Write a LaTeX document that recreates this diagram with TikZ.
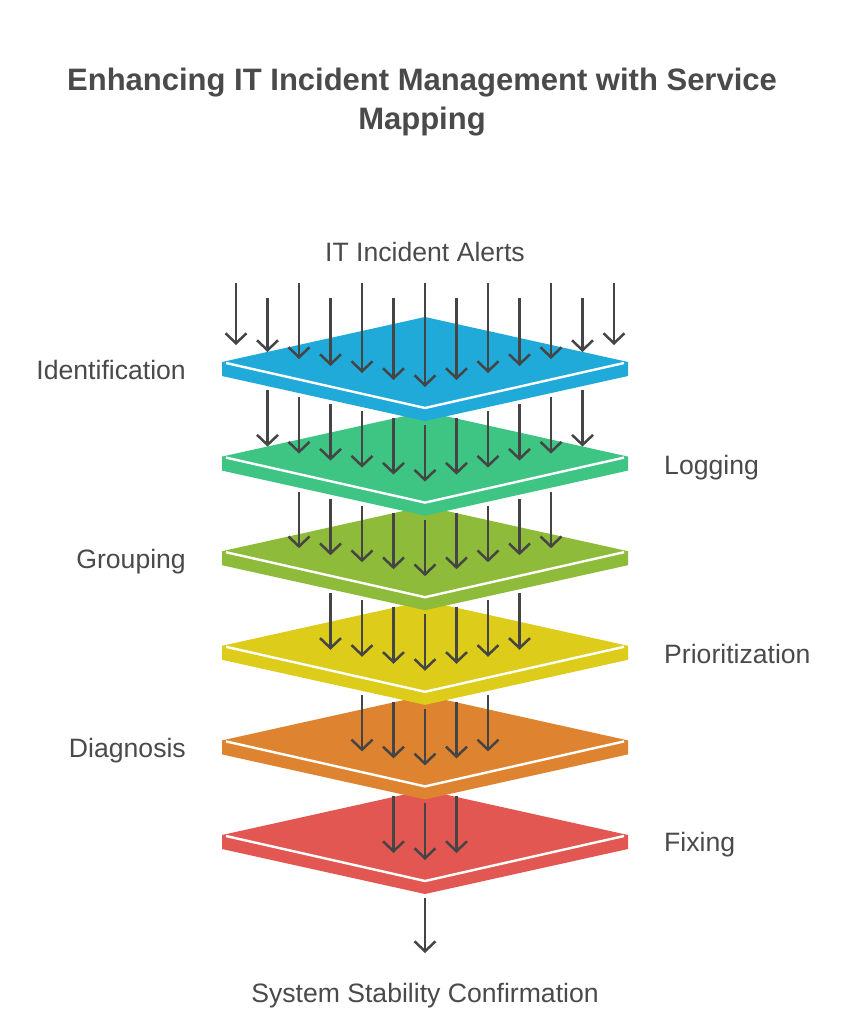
\documentclass[tikz,border=0pt]{standalone}
\usepackage{fontspec}
\setmainfont{Liberation Sans}
\usetikzlibrary{arrows.meta}
\definecolor{txt}{HTML}{4A4A4A}
\definecolor{arrowc}{HTML}{454545}
\definecolor{lblue}{HTML}{1FAADA}
\definecolor{lgreen}{HTML}{3EC483}
\definecolor{lolive}{HTML}{8FBB3A}
\definecolor{lyellow}{HTML}{DECC1A}
\definecolor{lorange}{HTML}{DE8330}
\definecolor{lred}{HTML}{E35753}
\begin{document}
\begin{tikzpicture}[x=1pt,y=-1pt,
  flow/.style={draw=arrowc, line width=2.5pt, -{Straight Barb[length=10pt,width=21pt,line width=2.5pt]}},
  lbl/.style={inner sep=0pt, text=txt, font=\fontsize{26.6}{30}\selectfont},
  ttl/.style={inner sep=0pt, text=txt, align=center, font=\fontsize{31}{39}\selectfont\bfseries}]
\useasboundingbox[fill=white] (0,0) rectangle (850,1024);
% title
\node[ttl] (title) at (422,102) {Enhancing IT Incident Management with Service\\Mapping};
% layers (bottom first, top last)
\foreach \i/\col in {5/lred,4/lorange,3/lyellow,2/lolive,1/lgreen,0/lblue}{
  \pgfmathsetmacro\c{362+94.6*\i}
  \fill[\col] (222,\c) -- (425,\c-45) -- (628,\c) -- (628,\c+14) -- (425,\c+59) -- (222,\c+14) -- cycle;
  \draw[white, line width=2.4pt, line join=miter] (226,\c+1) -- (425,\c+46) -- (624,\c+1);
}
% incoming alerts
\foreach \k in {-6,...,6}{
  \pgfmathsetmacro\xx{425+31.5*\k}
  \pgfmathsetmacro\ys{mod(abs(\k),2)==0 ? 283 : 298}
  \pgfmathsetmacro\yt{387-7*abs(\k)}
  \coordinate (s0\k) at (\xx,\ys);
  \coordinate (t0\k) at (\xx,\yt);
  \draw[flow] (s0\k) -- (t0\k);
}
% flows between layers
\foreach \i in {1,...,5}{
  \pgfmathtruncatemacro\n{6-\i}
  \pgfmathtruncatemacro\m{\i-6}
  \foreach \k in {\m,...,\n}{
    \pgfmathsetmacro\xx{425+31.5*\k}
    \pgfmathsetmacro\ys{362+94.6*(\i-1)+63-7*abs(\k)}
    \pgfmathsetmacro\yt{362+94.6*\i+25-7*abs(\k)}
    \coordinate (s\i\k) at (\xx,\ys);
    \coordinate (t\i\k) at (\xx,\yt);
    \draw[flow] (s\i\k) -- (t\i\k);
  }
}
% output
\coordinate (outs) at (425,898);
\coordinate (outt) at (425,953);
\draw[flow] (outs) -- (outt);
% labels
\node[lbl, anchor=base] (alerts) at (425,261) {IT Incident Alerts};
\node[lbl, anchor=base] (result) at (425,1002) {System Stability Confirmation};
\node[lbl, anchor=base east] (l0) at (186,379) {Identification};
\node[lbl, anchor=base west] (l1) at (664,474) {Logging};
\node[lbl, anchor=base east] (l2) at (186,568) {Grouping};
\node[lbl, anchor=base west] (l3) at (664,663) {Prioritization};
\node[lbl, anchor=base east] (l4) at (186,757) {Diagnosis};
\node[lbl, anchor=base west] (l5) at (664,851) {Fixing};
\end{tikzpicture}
\end{document}
